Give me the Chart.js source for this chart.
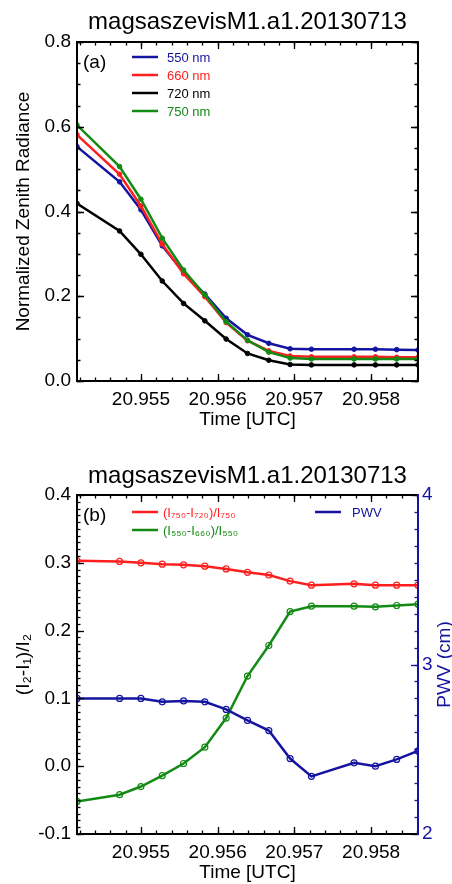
<!DOCTYPE html>
<html><head><meta charset="utf-8">
<script src="https://cdn.jsdelivr.net/npm/chart.js@4/dist/chart.umd.min.js"></script>
<style>
html,body{margin:0;padding:0;background:#fff;width:452px;height:884px;overflow:hidden}
.box{position:absolute;left:0;width:452px;height:431px}
#b1{top:0}
#b2{top:453px}
canvas{display:block}
</style></head><body>
<div class="box" id="b1"><canvas id="c1" width="452" height="431"></canvas></div>
<div class="box" id="b2"><canvas id="c2" width="452" height="431"></canvas></div>
<script>
// ---------------- data ----------------
const chartTitle = 'magsaszevisM1.a1.20130713';
const timeUTC = [20.954167, 20.954722, 20.955000, 20.955278, 20.955556, 20.955833, 20.956111, 20.956389,
                 20.956667, 20.956944, 20.957222, 20.957778, 20.958056, 20.958333, 20.958611];
const timeTicks = [20.955, 20.956, 20.957, 20.958];
const timeMin = 20.954167, timeMax = 20.958611;

const rad550 = [0.553, 0.470, 0.404, 0.319, 0.256, 0.205, 0.148, 0.109, 0.089, 0.076, 0.075, 0.075, 0.075, 0.074, 0.073];
const rad660 = [0.581, 0.488, 0.413, 0.323, 0.253, 0.199, 0.138, 0.095, 0.071, 0.059, 0.057, 0.057, 0.057, 0.056, 0.056];
const rad720 = [0.419, 0.354, 0.299, 0.236, 0.183, 0.142, 0.099, 0.065, 0.049, 0.039, 0.038, 0.038, 0.038, 0.038, 0.038];
const rad750 = [0.604, 0.506, 0.429, 0.337, 0.262, 0.203, 0.140, 0.096, 0.068, 0.054, 0.052, 0.052, 0.052, 0.052, 0.052];

const ratio750_720 = [0.303, 0.302, 0.300, 0.298, 0.297, 0.295, 0.291, 0.286, 0.282, 0.273, 0.267, 0.269, 0.267, 0.267, 0.267];
const ratio550_660 = [-0.052, -0.042, -0.030, -0.014, 0.004, 0.028, 0.071, 0.133, 0.178, 0.228, 0.236, 0.236, 0.235, 0.237, 0.239];
const pwvCm = [2.80, 2.80, 2.80, 2.78, 2.785, 2.78, 2.735, 2.67, 2.61, 2.445, 2.34, 2.42, 2.40, 2.44, 2.49];

const labelsA = ['550 nm', '660 nm', '720 nm', '750 nm'];
const labelsB = ['(I\u2087\u2085\u2080-I\u2087\u2082\u2080)/I\u2087\u2085\u2080', '(I\u2085\u2085\u2080-I\u2086\u2086\u2080)/I\u2085\u2085\u2080', 'PWV'];

// ---------------- style ----------------
const FONT = "'Liberation Sans', Arial, Helvetica, sans-serif";
const BLUE = '#1414a0', RED = '#ff1e1e', GREEN = '#138a13', BLACK = '#000000';

function pts(ys) { return ys.map((y, i) => ({x: timeUTC[i], y})); }
function steps(min, max, step) {
  const out = []; const s = Math.ceil(min / step - 1e-6);
  for (let i = s; i * step <= max + 1e-9; i++) out.push(+(i * step).toFixed(6));
  return out;
}

const decoPlugin = {
  id: 'deco',
  afterDraw(chart, args, o) {
    const {ctx, chartArea: a} = chart;
    ctx.save();
    const xs = chart.scales.x;
    const drawX = (vals, len) => vals.forEach(v => {
      const px = Math.round(xs.getPixelForValue(v)) + 0.5;
      ctx.beginPath();
      ctx.moveTo(px, a.bottom); ctx.lineTo(px, a.bottom - len);
      ctx.moveTo(px, a.top); ctx.lineTo(px, a.top + len);
      ctx.stroke();
    });
    ctx.strokeStyle = BLACK; ctx.lineWidth = 1.3;
    drawX(steps(timeMin, timeMax, 0.0002), 3.5);
    drawX(timeTicks, 7);
    const drawY = (scale, vals, len, side) => vals.forEach(v => {
      const py = Math.round(scale.getPixelForValue(v)) + 0.5;
      ctx.beginPath();
      if (side === 'left' || side === 'both') { ctx.moveTo(a.left, py); ctx.lineTo(a.left + len, py); }
      if (side === 'right' || side === 'both') { ctx.moveTo(a.right, py); ctx.lineTo(a.right - len, py); }
      ctx.stroke();
    });
    o.yAxes.forEach(ax => {
      const sc = chart.scales[ax.id];
      ctx.strokeStyle = ax.color;
      drawY(sc, steps(sc.min, sc.max, ax.minor), 3.5, ax.side);
      drawY(sc, steps(sc.min, sc.max, ax.major), 7, ax.side);
    });
    ctx.lineWidth = 2;
    ctx.strokeStyle = BLACK;
    ctx.beginPath();
    ctx.moveTo(a.right, a.top); ctx.lineTo(a.left, a.top); ctx.lineTo(a.left, a.bottom); ctx.lineTo(a.right, a.bottom);
    ctx.stroke();
    ctx.strokeStyle = o.rightColor;
    ctx.beginPath(); ctx.moveTo(a.right, a.top - 1); ctx.lineTo(a.right, a.bottom + 1); ctx.stroke();

    ctx.fillStyle = BLACK;
    ctx.font = '24px ' + FONT;
    ctx.textAlign = 'center'; ctx.textBaseline = 'middle';
    ctx.fillText(chartTitle, (a.left + a.right) / 2, o.titleY);
    ctx.font = '19px ' + FONT;
    ctx.textAlign = 'left';
    ctx.fillText(o.tag, a.left + 6, a.top + 21);
    ctx.font = '13px ' + FONT;
    o.legend.forEach(it => {
      const ds = chart.data.datasets[it.ds];
      ctx.strokeStyle = ds.borderColor; ctx.lineWidth = 2.5;
      ctx.beginPath(); ctx.moveTo(it.x, it.y); ctx.lineTo(it.x + 26, it.y); ctx.stroke();
      ctx.fillStyle = ds.borderColor;
      ctx.fillText(ds.label, it.x + it.gap, it.y + 1);
    });
    if (o.rightTitle) {
      ctx.save();
      ctx.translate(o.rightTitle.x, (a.top + a.bottom) / 2);
      ctx.rotate(-Math.PI / 2);
      ctx.fillStyle = o.rightColor;
      ctx.font = '19px ' + FONT;
      ctx.textAlign = 'center'; ctx.textBaseline = 'middle';
      ctx.fillText(o.rightTitle.text, 0, 0);
      ctx.restore();
    }
    ctx.restore();
  }
};

const xScale = {
  type: 'linear', min: timeMin, max: timeMax,
  grid: {display: false, drawTicks: false}, border: {display: false},
  afterBuildTicks: s => { s.ticks = timeTicks.map(v => ({value: v})); },
  afterFit: s => { s.height = 50; },
  ticks: {padding: 7, color: BLACK, font: {size: 19, family: FONT}, maxRotation: 0,
          callback: v => v.toFixed(3)},
  title: {display: true, text: 'Time [UTC]', color: BLACK, font: {size: 19, family: FONT}, padding: {top: 0, bottom: 0}}
};

function lineDs(label, data, color, order, hollow) {
  return {
    label, data: pts(data), borderColor: color, backgroundColor: color,
    borderWidth: 2.5, tension: 0, order,
    pointRadius: hollow ? 3 : 2.3, pointBorderWidth: hollow ? 1.2 : 1,
    pointBackgroundColor: hollow ? 'rgba(255,255,255,0)' : color, pointBorderColor: color,
    pointHoverRadius: 3
  };
}

new Chart(document.getElementById('c1'), {
  type: 'line',
  data: {datasets: [
    lineDs(labelsA[0], rad550, BLUE, 3, false),
    lineDs(labelsA[1], rad660, RED, 2, false),
    lineDs(labelsA[2], rad720, BLACK, 1, false),
    lineDs(labelsA[3], rad750, GREEN, 0, false)
  ]},
  options: {
    responsive: false, animation: false, devicePixelRatio: 1,
    layout: {padding: {top: 42, right: 34, left: 0, bottom: 0}},
    plugins: {
      legend: {display: false}, tooltip: {enabled: false},
      deco: {
        titleY: 22, tag: '(a)', rightColor: BLACK,
        yAxes: [{id: 'y', major: 0.2, minor: 0.05, side: 'both', color: BLACK}],
        legend: [{ds: 0, x: 132, y: 57, gap: 35}, {ds: 1, x: 132, y: 75, gap: 35},
                 {ds: 2, x: 132, y: 93, gap: 35}, {ds: 3, x: 132, y: 111, gap: 35}]
      }
    },
    scales: {
      x: xScale,
      y: {
        type: 'linear', min: 0, max: 0.8,
        grid: {display: false, drawTicks: false}, border: {display: false},
        afterFit: s => { s.width = 77; },
        ticks: {stepSize: 0.2, padding: 6, color: BLACK, font: {size: 19, family: FONT}, callback: v => v.toFixed(1)},
        title: {display: true, text: 'Normalized Zenith Radiance', color: BLACK, font: {size: 19, family: FONT}, padding: {top: 12, bottom: 0}}
      }
    }
  },
  plugins: [decoPlugin]
});

new Chart(document.getElementById('c2'), {
  type: 'line',
  data: {datasets: [
    Object.assign(lineDs(labelsB[0], ratio750_720, RED, 2, true), {yAxisID: 'y'}),
    Object.assign(lineDs(labelsB[1], ratio550_660, GREEN, 1, true), {yAxisID: 'y'}),
    Object.assign(lineDs(labelsB[2], pwvCm, BLUE, 0, true), {yAxisID: 'y1'})
  ]},
  options: {
    responsive: false, animation: false, devicePixelRatio: 1,
    layout: {padding: {top: 42, right: 0, left: 0, bottom: 0}},
    plugins: {
      legend: {display: false}, tooltip: {enabled: false},
      deco: {
        titleY: 23, tag: '(b)', rightColor: BLUE,
        yAxes: [{id: 'y', major: 0.1, minor: 0.01, side: 'left', color: BLACK},
                {id: 'y1', major: 1, minor: 0.1, side: 'right', color: BLUE}],
        legend: [{ds: 0, x: 132, y: 59, gap: 31}, {ds: 1, x: 132, y: 77, gap: 31},
                 {ds: 2, x: 315, y: 59, gap: 37}],
        rightTitle: {text: 'PWV (cm)', x: 445}
      }
    },
    scales: {
      x: xScale,
      y: {
        type: 'linear', position: 'left', min: -0.1, max: 0.4,
        grid: {display: false, drawTicks: false}, border: {display: false},
        afterFit: s => { s.width = 77; },
        ticks: {stepSize: 0.1, padding: 6, color: BLACK, font: {size: 19, family: FONT}, callback: v => v.toFixed(1)},
        title: {display: true, text: '(I\u2082-I\u2081)/I\u2082', color: BLACK, font: {size: 19, family: FONT}, padding: {top: 12, bottom: 0}}
      },
      y1: {
        type: 'linear', position: 'right', min: 2, max: 4,
        grid: {display: false, drawTicks: false}, border: {display: false},
        afterFit: s => { s.width = 34; },
        ticks: {stepSize: 1, padding: 4, color: BLUE, font: {size: 19, family: FONT}, callback: v => String(v)}
      }
    }
  },
  plugins: [decoPlugin]
});
</script>
</body></html>
